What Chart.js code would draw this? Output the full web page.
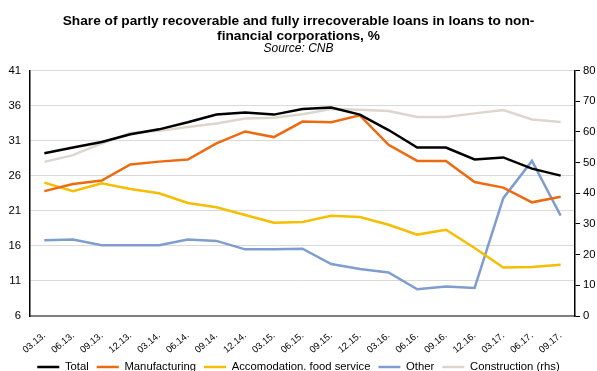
<!DOCTYPE html>
<html>
<head>
<meta charset="utf-8">
<script src="https://cdn.jsdelivr.net/npm/chart.js@4.4.1/dist/chart.umd.min.js"></script>
<style>
  html, body { margin: 0; padding: 0; background: #ffffff; }
  #wrap { width: 597px; height: 371px; }
</style>
</head>
<body>
<div id="wrap"><canvas id="c" width="597" height="371"></canvas></div>
<script>
// Quarter labels (month.year.)
const quarters = ['03.13.', '06.13.', '09.13.', '12.13.', '03.14.', '06.14.', '09.14.', '12.14.',
  '03.15.', '06.15.', '09.15.', '12.15.', '03.16.', '06.16.', '09.16.', '12.16.',
  '03.17.', '06.17.', '09.17.'];

// Shares, % (left axis)
const total         = [29.2, 30.0, 30.8, 31.9, 32.6, 33.6, 34.7, 35.0, 34.7, 35.5, 35.7, 34.7, 32.5, 30.0, 30.0, 28.3, 28.6, 27.0, 26.0];
const manufacturing = [23.8, 24.8, 25.3, 27.6, 28.0, 28.3, 30.6, 32.3, 31.5, 33.7, 33.6, 34.6, 30.4, 28.1, 28.1, 25.1, 24.3, 22.2, 23.0];
const accommodation = [25.0, 23.8, 24.9, 24.1, 23.5, 22.1, 21.5, 20.4, 19.3, 19.4, 20.3, 20.1, 19.0, 17.6, 18.3, 15.7, 12.9, 13.0, 13.3];
const other         = [16.8, 16.9, 16.1, 16.1, 16.1, 16.9, 16.7, 15.5, 15.5, 15.6, 13.4, 12.7, 12.2, 9.8, 10.2, 10.0, 22.8, 28.1, 20.3];
// Share, % (right axis)
const construction  = [50.2, 52.4, 56.2, 59.6, 60.3, 61.6, 62.7, 64.3, 64.6, 65.7, 67.4, 67.2, 66.8, 64.8, 64.8, 66.0, 67.1, 64.0, 63.2];

// Axis ranges
const leftMin = 6, leftMax = 41, leftStep = 5;
const rightMin = 0, rightMax = 80, rightStep = 10;

Chart.defaults.font.family = "'Liberation Sans', Arial, sans-serif";
Chart.defaults.color = '#000000';

const tickFont = { size: 11.3 };
const lineW = 2.5;

new Chart(document.getElementById('c'), {
  type: 'line',
  data: {
    labels: quarters,
    datasets: [
      { label: 'Total', data: total, borderColor: '#000000', backgroundColor: '#000000', borderWidth: lineW, yAxisID: 'y' },
      { label: 'Manufacturing', data: manufacturing, borderColor: '#EE6A10', backgroundColor: '#EE6A10', borderWidth: lineW, yAxisID: 'y' },
      { label: 'Accomodation. food service', data: accommodation, borderColor: '#F5BE00', backgroundColor: '#F5BE00', borderWidth: lineW, yAxisID: 'y' },
      { label: 'Other', data: other, borderColor: '#7F9DCE', backgroundColor: '#7F9DCE', borderWidth: lineW, yAxisID: 'y' },
      { label: 'Construction (rhs)', data: construction, borderColor: '#DDD6CC', backgroundColor: '#DDD6CC', borderWidth: lineW, yAxisID: 'y2' }
    ]
  },
  options: {
    responsive: false,
    devicePixelRatio: 1,
    animation: false,
    layout: { padding: 0 },
    elements: {
      line: { borderWidth: lineW, tension: 0, fill: false },
      point: { radius: 0, hoverRadius: 0 }
    },
    plugins: {
      tooltip: { enabled: false },
      title: {
        display: true,
        text: ['Share of partly recoverable and fully irrecoverable loans in loans to non-',
               'financial corporations, %'],
        color: '#000000',
        font: { size: 13.7, weight: 'bold', lineHeight: 15.5 / 13.7 },
        padding: { top: 13, bottom: 0 }
      },
      subtitle: {
        display: true,
        text: 'Source: CNB',
        color: '#000000',
        font: { size: 12, style: 'italic', lineHeight: 0.7 },
        padding: { top: 0.5, bottom: 17.5 }
      },
      legend: {
        position: 'bottom',
        maxHeight: 17.65,
        labels: {
          usePointStyle: true,
          pointStyle: 'line',
          pointStyleWidth: 22,
          padding: 8,
          color: '#000000',
          font: { size: 11.3 }
        }
      }
    },
    scales: {
      x: {
        offset: true,
        grid: { display: false },
        border: { display: true, color: '#7F7F7F', width: 2 },
        ticks: { autoSkip: false, minRotation: 40, maxRotation: 40, padding: 6, font: { size: 9.5 }, color: '#000000' },
        afterFit: (s) => { s.height = 37.35; }
      },
      y: {
        position: 'left',
        min: leftMin, max: leftMax,
        ticks: { stepSize: leftStep, padding: 9, font: tickFont, color: '#000000' },
        grid: { color: '#D9D9D9', lineWidth: 1, drawTicks: false },
        border: { display: true, color: '#000000', width: 1.5 },
        afterFit: (s) => { s.width = 30; }
      },
      y2: {
        position: 'right',
        min: rightMin, max: rightMax,
        ticks: { stepSize: rightStep, padding: 3, font: tickFont, color: '#000000' },
        grid: { drawOnChartArea: false, drawTicks: true, tickLength: 5, color: '#000000', lineWidth: 1 },
        border: { display: true, color: '#000000', width: 1.5 },
        afterFit: (s) => { s.width = 22; }
      }
    }
  }
});
</script>
</body>
</html>
